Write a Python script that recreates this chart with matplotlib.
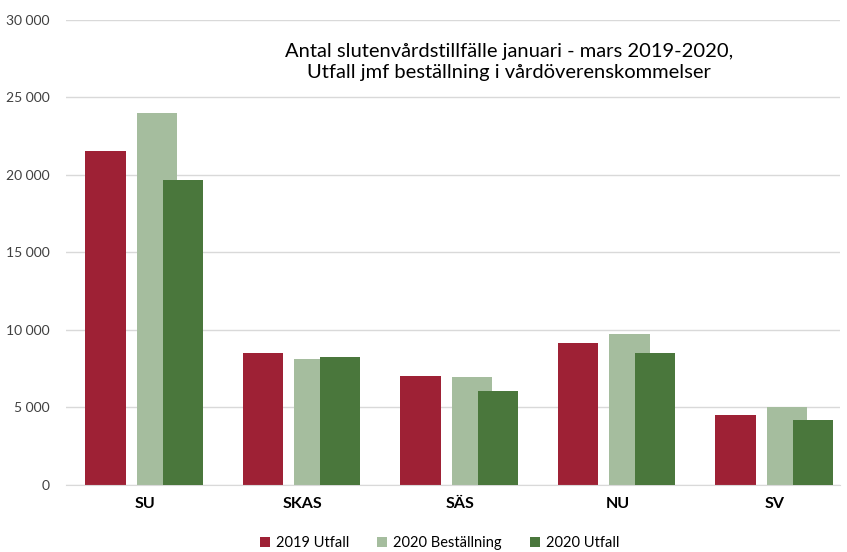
import matplotlib
matplotlib.use("Agg")
import matplotlib.pyplot as plt
import numpy as np

plt.rcParams['font.family'] = ['Lato', 'DejaVu Sans']

categories = ['SU', 'SKAS', 'SÄS', 'NU', 'SV']
utfall_2019 = [21550, 8500, 7030, 9170, 4530]
bestallning_2020 = [24000, 8130, 6980, 9740, 5040]
utfall_2020 = [19700, 8250, 6070, 8510, 4200]
yticks = [0, 5000, 10000, 15000, 20000, 25000, 30000]
ytick_labels = ['0', '5 000', '10 000', '15 000', '20 000', '25 000', '30 000']

red = '#9E2135'
light = '#A5BD9E'
dark = '#4A773C'

fig = plt.figure(figsize=(8.47, 5.52), dpi=100)
ax = fig.add_axes([0.078, 0.1214, 0.914, 0.8424])

x = np.arange(len(categories))
w = 0.255
ax.bar(x - 0.25, utfall_2019, w, color=red, label='2019 Utfall', zorder=2)
ax.bar(x + 0.077, bestallning_2020, w, color=light, label='2020 Beställning', zorder=2)
ax.bar(x + 0.24, utfall_2020, w, color=dark, label='2020 Utfall', zorder=3)

ax.set_xlim(-0.5, 4.415)
ax.set_ylim(0, 30000)
ax.set_yticks(yticks)
ax.set_yticklabels(ytick_labels, fontsize=10, color='#404040')
ax.set_xticks(x)
ax.set_xticklabels(categories, fontsize=11.5, fontweight='bold', color='black')
ax.tick_params(axis='both', length=0)
ax.tick_params(axis='x', pad=9)
ax.tick_params(axis='y', pad=12)
ax.grid(axis='y', color='#D9D9D9', linewidth=1, zorder=0)
for s in ['top', 'right', 'left']:
    ax.spines[s].set_visible(False)
ax.spines['bottom'].set_color('#D9D9D9')

fig.text(0.601, 0.888, 'Antal slutenvårdstillfälle januari - mars 2019-2020,\nUtfall jmf beställning i vårdöverenskommelser',
         ha='center', va='center', fontsize=14.5, linespacing=1.32)

fig.legend(loc='center', bbox_to_anchor=(0.519, 0.016), ncol=3, frameon=False,
           fontsize=10.5, handlelength=0.7, handleheight=0.7, handletextpad=0.4,
           columnspacing=1.9)

fig.savefig('out.png', dpi=100)
